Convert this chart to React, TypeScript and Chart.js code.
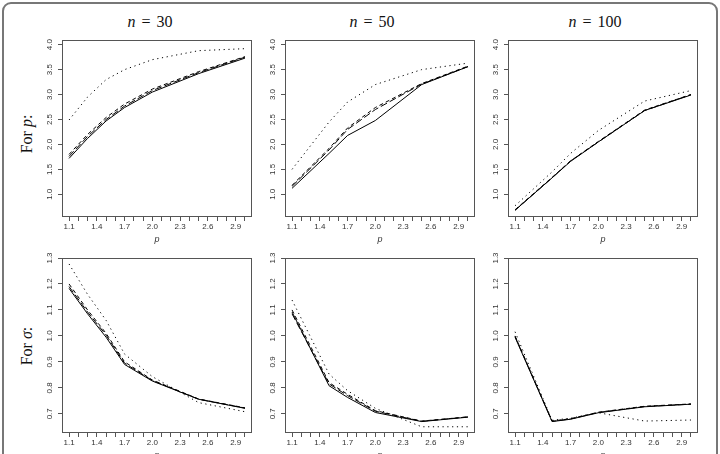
import { useEffect, useRef } from "react";
import { Chart, registerables } from "chart.js";

Chart.register(...registerables);

// Power parameter values on the horizontal axis
const P_VALUES = [1.1, 1.5, 1.7, 2.0, 2.5, 3.0];
// The n = 30 runs also include p = 1.3
const P_VALUES_N30 = [1.1, 1.3, 1.5, 1.7, 2.0, 2.5, 3.0];

// Axis ticks and labels
const X_TICKS = [1.1, 1.2, 1.3, 1.4, 1.5, 1.6, 1.7, 1.8, 1.9, 2.0, 2.1, 2.2, 2.3, 2.4, 2.5, 2.6, 2.7, 2.8, 2.9, 3.0];
const X_LABELS = ["1.1", "1.4", "1.7", "2.0", "2.3", "2.6", "2.9"];
const Y_TICKS_P = [1.0, 1.5, 2.0, 2.5, 3.0, 3.5, 4.0];
const Y_TICKS_SIGMA = [0.7, 0.8, 0.9, 1.0, 1.1, 1.2, 1.3];

// Estimates of p  (solid, dashed, long-dashed, dotted)
const P_N30_SOLID = [1.72, 2.12, 2.47, 2.74, 3.05, 3.42, 3.73];
const P_N30_DASHED = [1.8, 2.2, 2.54, 2.81, 3.11, 3.46, 3.76];
const P_N30_LONGDASH = [1.76, 2.16, 2.5, 2.77, 3.08, 3.44, 3.75];
const P_N30_DOTTED = [2.49, 2.95, 3.3, 3.5, 3.7, 3.88, 3.92];

const P_N50_SOLID = [1.12, 1.82, 2.18, 2.48, 3.2, 3.56];
const P_N50_DASHED = [1.18, 1.92, 2.33, 2.74, 3.22, 3.57];
const P_N50_LONGDASH = [1.16, 1.89, 2.3, 2.7, 3.21, 3.56];
const P_N50_DOTTED = [1.5, 2.45, 2.85, 3.2, 3.5, 3.63];

const P_N100_SOLID = [0.68, 1.33, 1.66, 2.05, 2.68, 2.99];
const P_N100_DASHED = [0.69, 1.34, 1.67, 2.06, 2.69, 3.0];
const P_N100_LONGDASH = [0.68, 1.33, 1.67, 2.05, 2.68, 3.0];
const P_N100_DOTTED = [0.77, 1.45, 1.82, 2.28, 2.87, 3.08];

// Estimates of sigma
const S_N30_SOLID = [1.183, 1.085, 0.995, 0.89, 0.826, 0.756, 0.721];
const S_N30_DASHED = [1.2, 1.1, 1.01, 0.9, 0.83, 0.757, 0.723];
const S_N30_LONGDASH = [1.19, 1.092, 1.003, 0.895, 0.828, 0.756, 0.722];
const S_N30_DOTTED = [1.277, 1.16, 1.06, 0.93, 0.843, 0.743, 0.708];

const S_N50_SOLID = [1.092, 0.808, 0.763, 0.705, 0.67, 0.687];
const S_N50_DASHED = [1.1, 0.82, 0.775, 0.712, 0.672, 0.688];
const S_N50_LONGDASH = [1.085, 0.815, 0.77, 0.71, 0.671, 0.688];
const S_N50_DOTTED = [1.138, 0.853, 0.789, 0.721, 0.65, 0.65];

const S_N100_SOLID = [0.995, 0.67, 0.679, 0.704, 0.727, 0.737];
const S_N100_DASHED = [1.0, 0.672, 0.681, 0.706, 0.729, 0.738];
const S_N100_LONGDASH = [0.998, 0.671, 0.68, 0.705, 0.728, 0.737];
const S_N100_DOTTED = [1.016, 0.675, 0.683, 0.704, 0.672, 0.676];

const SAMPLE_SIZES = ["30", "50", "100"];
const X_BY_COLUMN = [P_VALUES_N30, P_VALUES, P_VALUES];

const LINE_STYLES: number[][] = [[], [4, 3], [7, 3], [1.2, 3.6]];

const AXIS_COLOR = "#555";
const TEXT_COLOR = "#333";
const SANS = "'Liberation Sans', Arial, sans-serif";
const SERIF = "'Liberation Serif', 'Times New Roman', serif";

// Geometry of the plot grid
const BOX_W = 190;
const BOX_LEFTS = [62, 285, 508];
const ROWS = [
  { top: 40, height: 177, min: 0.545, max: 4.094, ticks: Y_TICKS_P },
  { top: 258, height: 175, min: 0.626, max: 1.3, ticks: Y_TICKS_SIGMA },
];
const Y_AXIS_W = 30;
const X_AXIS_H = 30;
const PAD_T = 8;
const PAD_R = 8;

const frame = {
  id: "boxFrame",
  afterDatasetsDraw(chart: any) {
    const { ctx, chartArea: a } = chart;
    ctx.save();
    ctx.strokeStyle = AXIS_COLOR;
    ctx.lineWidth = 1;
    ctx.strokeRect(
      Math.round(a.left) + 0.5,
      Math.round(a.top) + 0.5,
      Math.round(a.right - a.left) - 1,
      Math.round(a.bottom - a.top) - 1
    );
    ctx.restore();
  },
};

type PanelProps = {
  left: number;
  top: number;
  height: number;
  yMin: number;
  yMax: number;
  yTicks: number[];
  xs: number[];
  series: number[][];
};

function Panel({ left, top, height, yMin, yMax, yTicks, xs, series }: PanelProps) {
  const ref = useRef<HTMLCanvasElement | null>(null);
  const cw = Y_AXIS_W + BOX_W + PAD_R;
  const ch = PAD_T + height + X_AXIS_H;

  useEffect(() => {
    if (!ref.current) return;
    const chart = new Chart(ref.current, {
      type: "line",
      data: {
        datasets: series.map((vals, i) => ({
          data: xs.map((x, j) => ({ x, y: vals[j] })),
          borderColor: "#000",
          borderWidth: 1,
          borderDash: LINE_STYLES[i],
          pointRadius: 0,
          tension: 0,
          fill: false,
        })),
      },
      options: {
        responsive: false,
        animation: false,
        layout: { padding: { left: 0, top: PAD_T, right: PAD_R, bottom: 0 } },
        plugins: { legend: { display: false }, tooltip: { enabled: false }, title: { display: false } },
        scales: {
          x: {
            type: "linear",
            min: 1.024,
            max: 3.076,
            afterBuildTicks: (s: any) => {
              s.ticks = X_TICKS.map((v) => ({ value: v }));
            },
            afterFit: (s: any) => {
              s.height = X_AXIS_H;
            },
            grid: { display: true, drawOnChartArea: false, drawTicks: true, tickLength: 4, color: AXIS_COLOR },
            border: { display: false },
            ticks: {
              autoSkip: false,
              maxRotation: 0,
              minRotation: 0,
              padding: 1,
              color: TEXT_COLOR,
              font: { family: SANS, size: 8 },
              callback: (v: any) => {
                const s = Number(v).toFixed(1);
                return X_LABELS.includes(s) ? s : "";
              },
            },
            title: {
              display: true,
              text: "p",
              color: TEXT_COLOR,
              font: { family: SANS, size: 9, style: "italic" },
              padding: { top: 0, bottom: 2 },
            },
          },
          y: {
            type: "linear",
            min: yMin,
            max: yMax,
            afterBuildTicks: (s: any) => {
              s.ticks = yTicks.map((v) => ({ value: v }));
            },
            afterFit: (s: any) => {
              s.width = Y_AXIS_W;
            },
            grid: { display: true, drawOnChartArea: false, drawTicks: true, tickLength: 4, color: AXIS_COLOR },
            border: { display: false },
            ticks: {
              autoSkip: false,
              minRotation: 90,
              maxRotation: 90,
              crossAlign: "center",
              padding: 3,
              color: TEXT_COLOR,
              font: { family: SANS, size: 8 },
              callback: (v: any) => Number(v).toFixed(1),
            },
          },
        },
      },
      plugins: [frame],
    } as any);
    return () => chart.destroy();
  }, []);

  return (
    <canvas
      ref={ref}
      width={cw}
      height={ch}
      style={{ position: "absolute", left: left - Y_AXIS_W, top: top - PAD_T, width: cw, height: ch }}
    />
  );
}

const GRID: number[][][][] = [
  [
    [P_N30_SOLID, P_N30_DASHED, P_N30_LONGDASH, P_N30_DOTTED],
    [P_N50_SOLID, P_N50_DASHED, P_N50_LONGDASH, P_N50_DOTTED],
    [P_N100_SOLID, P_N100_DASHED, P_N100_LONGDASH, P_N100_DOTTED],
  ],
  [
    [S_N30_SOLID, S_N30_DASHED, S_N30_LONGDASH, S_N30_DOTTED],
    [S_N50_SOLID, S_N50_DASHED, S_N50_LONGDASH, S_N50_DOTTED],
    [S_N100_SOLID, S_N100_DASHED, S_N100_LONGDASH, S_N100_DOTTED],
  ],
];

const TITLE_CENTERS = [150, 372, 595];
const ROW_LABELS = [
  { y: 134, sym: "p" },
  { y: 346, sym: "σ" },
];

export default function App() {
  return (
    <div
      style={{
        position: "fixed",
        left: 0,
        top: 0,
        width: 720,
        height: 454,
        overflow: "hidden",
        background: "#fff",
      }}
    >
      <div
        style={{
          position: "absolute",
          left: 2,
          top: 2,
          width: 712,
          height: 480,
          border: "2px solid #777",
          borderRadius: 9,
        }}
      />
      {SAMPLE_SIZES.map((n, i) => (
        <div
          key={n}
          style={{
            position: "absolute",
            left: TITLE_CENTERS[i],
            top: 14,
            transform: "translateX(-50%)",
            fontFamily: SERIF,
            fontSize: 16,
            lineHeight: "16px",
            whiteSpace: "nowrap",
            wordSpacing: 2,
            color: "#111",
          }}
        >
          <i>n</i> = {n}
        </div>
      ))}
      {ROW_LABELS.map((r) => (
        <div
          key={r.sym}
          style={{
            position: "absolute",
            left: 27,
            top: r.y,
            transform: "translate(-50%, -50%) rotate(-90deg)",
            fontFamily: SERIF,
            fontSize: 16,
            lineHeight: "16px",
            whiteSpace: "nowrap",
            color: "#111",
          }}
        >
          For <i>{r.sym}</i>:
        </div>
      ))}
      {ROWS.map((row, ri) =>
        BOX_LEFTS.map((bl, ci) => (
          <Panel
            key={`${ri}-${ci}`}
            left={bl}
            top={row.top}
            height={row.height}
            yMin={row.min}
            yMax={row.max}
            yTicks={row.ticks}
            xs={X_BY_COLUMN[ci]}
            series={GRID[ri][ci]}
          />
        ))
      )}
    </div>
  );
}
